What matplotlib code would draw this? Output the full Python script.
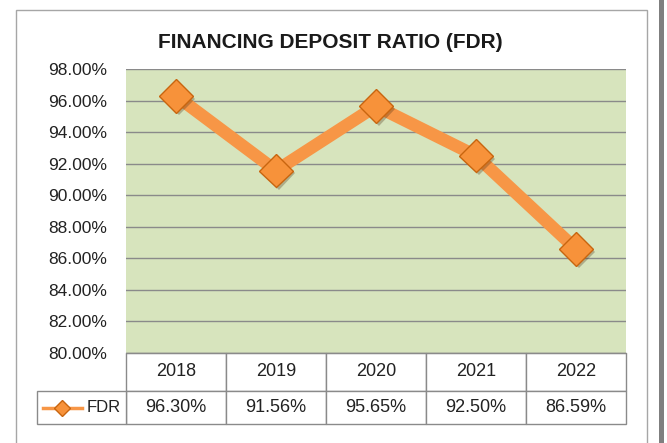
import matplotlib
matplotlib.use("Agg")
import matplotlib.pyplot as plt
from matplotlib.patches import Rectangle
from matplotlib.lines import Line2D
import matplotlib.patheffects as pe
from matplotlib.transforms import blended_transform_factory

years = ["2018", "2019", "2020", "2021", "2022"]
fdr = [96.30, 91.56, 95.65, 92.50, 86.59]
series_name = "FDR"
y_ticks = [80, 82, 84, 86, 88, 90, 92, 94, 96, 98]
title = "FINANCING DEPOSIT RATIO (FDR)"

plt.rcParams['font.family'] = ['Liberation Sans', 'DejaVu Sans']

W, H = 667, 443
fig = plt.figure(figsize=(W / 100, H / 100), dpi=100)
fig.patch.set_facecolor('white')

def fx(px):
    return px / W

def fy(py):
    return 1 - py / H

# outer chart border and side bar
fig.patches.append(Rectangle((fx(16), fy(445)), fx(647) - fx(16), fy(10) - fy(445),
                             transform=fig.transFigure, fill=False,
                             edgecolor='#A6A6A6', linewidth=1.0))
fig.patches.append(Rectangle((fx(659), 0), fx(5), 1, transform=fig.transFigure,
                             facecolor='#7F7F7F', edgecolor='none'))

left, right, top, bottom = 126, 626, 69, 353
ax = fig.add_axes([fx(left), fy(bottom), fx(right) - fx(left), fy(top) - fy(bottom)])
ax.set_facecolor('#D7E4BD')
x = list(range(len(years)))
ax.plot(x, fdr, color='#F79646', linewidth=9, solid_capstyle='butt', zorder=3)
ax.plot(x, fdr, linestyle='none', marker='D', markersize=17,
        markerfacecolor='#F7923A', markeredgecolor='#C8650F', markeredgewidth=1.0, zorder=4,
        path_effects=[pe.SimplePatchShadow(offset=(2, -2), alpha=0.3), pe.Normal()])
ax.set_xlim(-0.5, len(years) - 0.5)
ax.set_ylim(80, 98)
ax.set_yticks(y_ticks)
ax.set_yticklabels([f"{v:.2f}%" for v in y_ticks], fontsize=12.5, color='#222222')
ax.tick_params(axis='y', length=0, pad=13.5)
ax.set_xticks([])
ax.grid(axis='y', color='#8A8A8A', linewidth=1.0)
ax.set_axisbelow(True)
for s in ['top', 'right', 'left']:
    ax.spines[s].set_visible(False)
ax.spines['bottom'].set_color('#8A8A8A')

# data table drawn under the axes (x in data units, y in axes fraction)
tr = blended_transform_factory(ax.transData, ax.transAxes)
ph = bottom - top
r1_top, r1_bot, r2_bot = 0.0, -(391 - 353) / ph, -(424 - 353) / ph
edge = '#8A8A8A'
for i, (yr, v) in enumerate(zip(years, fdr)):
    for (y0, y1) in [(r1_bot, r1_top), (r2_bot, r1_bot)]:
        ax.add_patch(Rectangle((i - 0.5, y0), 1, y1 - y0, transform=tr, clip_on=False,
                               facecolor='white', edgecolor=edge, linewidth=1.0))
    ax.text(i, (r1_top + r1_bot) / 2, yr, transform=tr, ha='center', va='center',
            fontsize=13, color='#222222')
    ax.text(i, (r1_bot + r2_bot) / 2, f"{v:.2f}%", transform=tr, ha='center',
            va='center', fontsize=13, color='#222222')
# row label cell
lab_left = -0.5 - (126 - 37) / 100
ax.add_patch(Rectangle((lab_left, r2_bot), -0.5 - lab_left, r1_bot - r2_bot, transform=tr,
                       clip_on=False, facecolor='white', edgecolor=edge, linewidth=1.0))
ax.text(-0.55, (r1_bot + r2_bot) / 2, series_name, transform=tr, ha='right', va='center',
        fontsize=12, color='#222222')

# legend key in row label cell
ky = fy(408)
fig.add_artist(Line2D([fx(43), fx(82)], [ky, ky], transform=fig.transFigure,
                      color='#F79646', linewidth=2.5))
fig.add_artist(Line2D([fx(62)], [ky], transform=fig.transFigure, marker='D',
                      markersize=8, markerfacecolor='#F7923A', markeredgecolor='#C8650F',
                      linestyle='none'))

fig.text(fx(330), fy(42), title, ha='center', va='center', fontsize=15,
         fontweight='bold', color='#1A1A1A')

fig.savefig('out.png', dpi=100)
